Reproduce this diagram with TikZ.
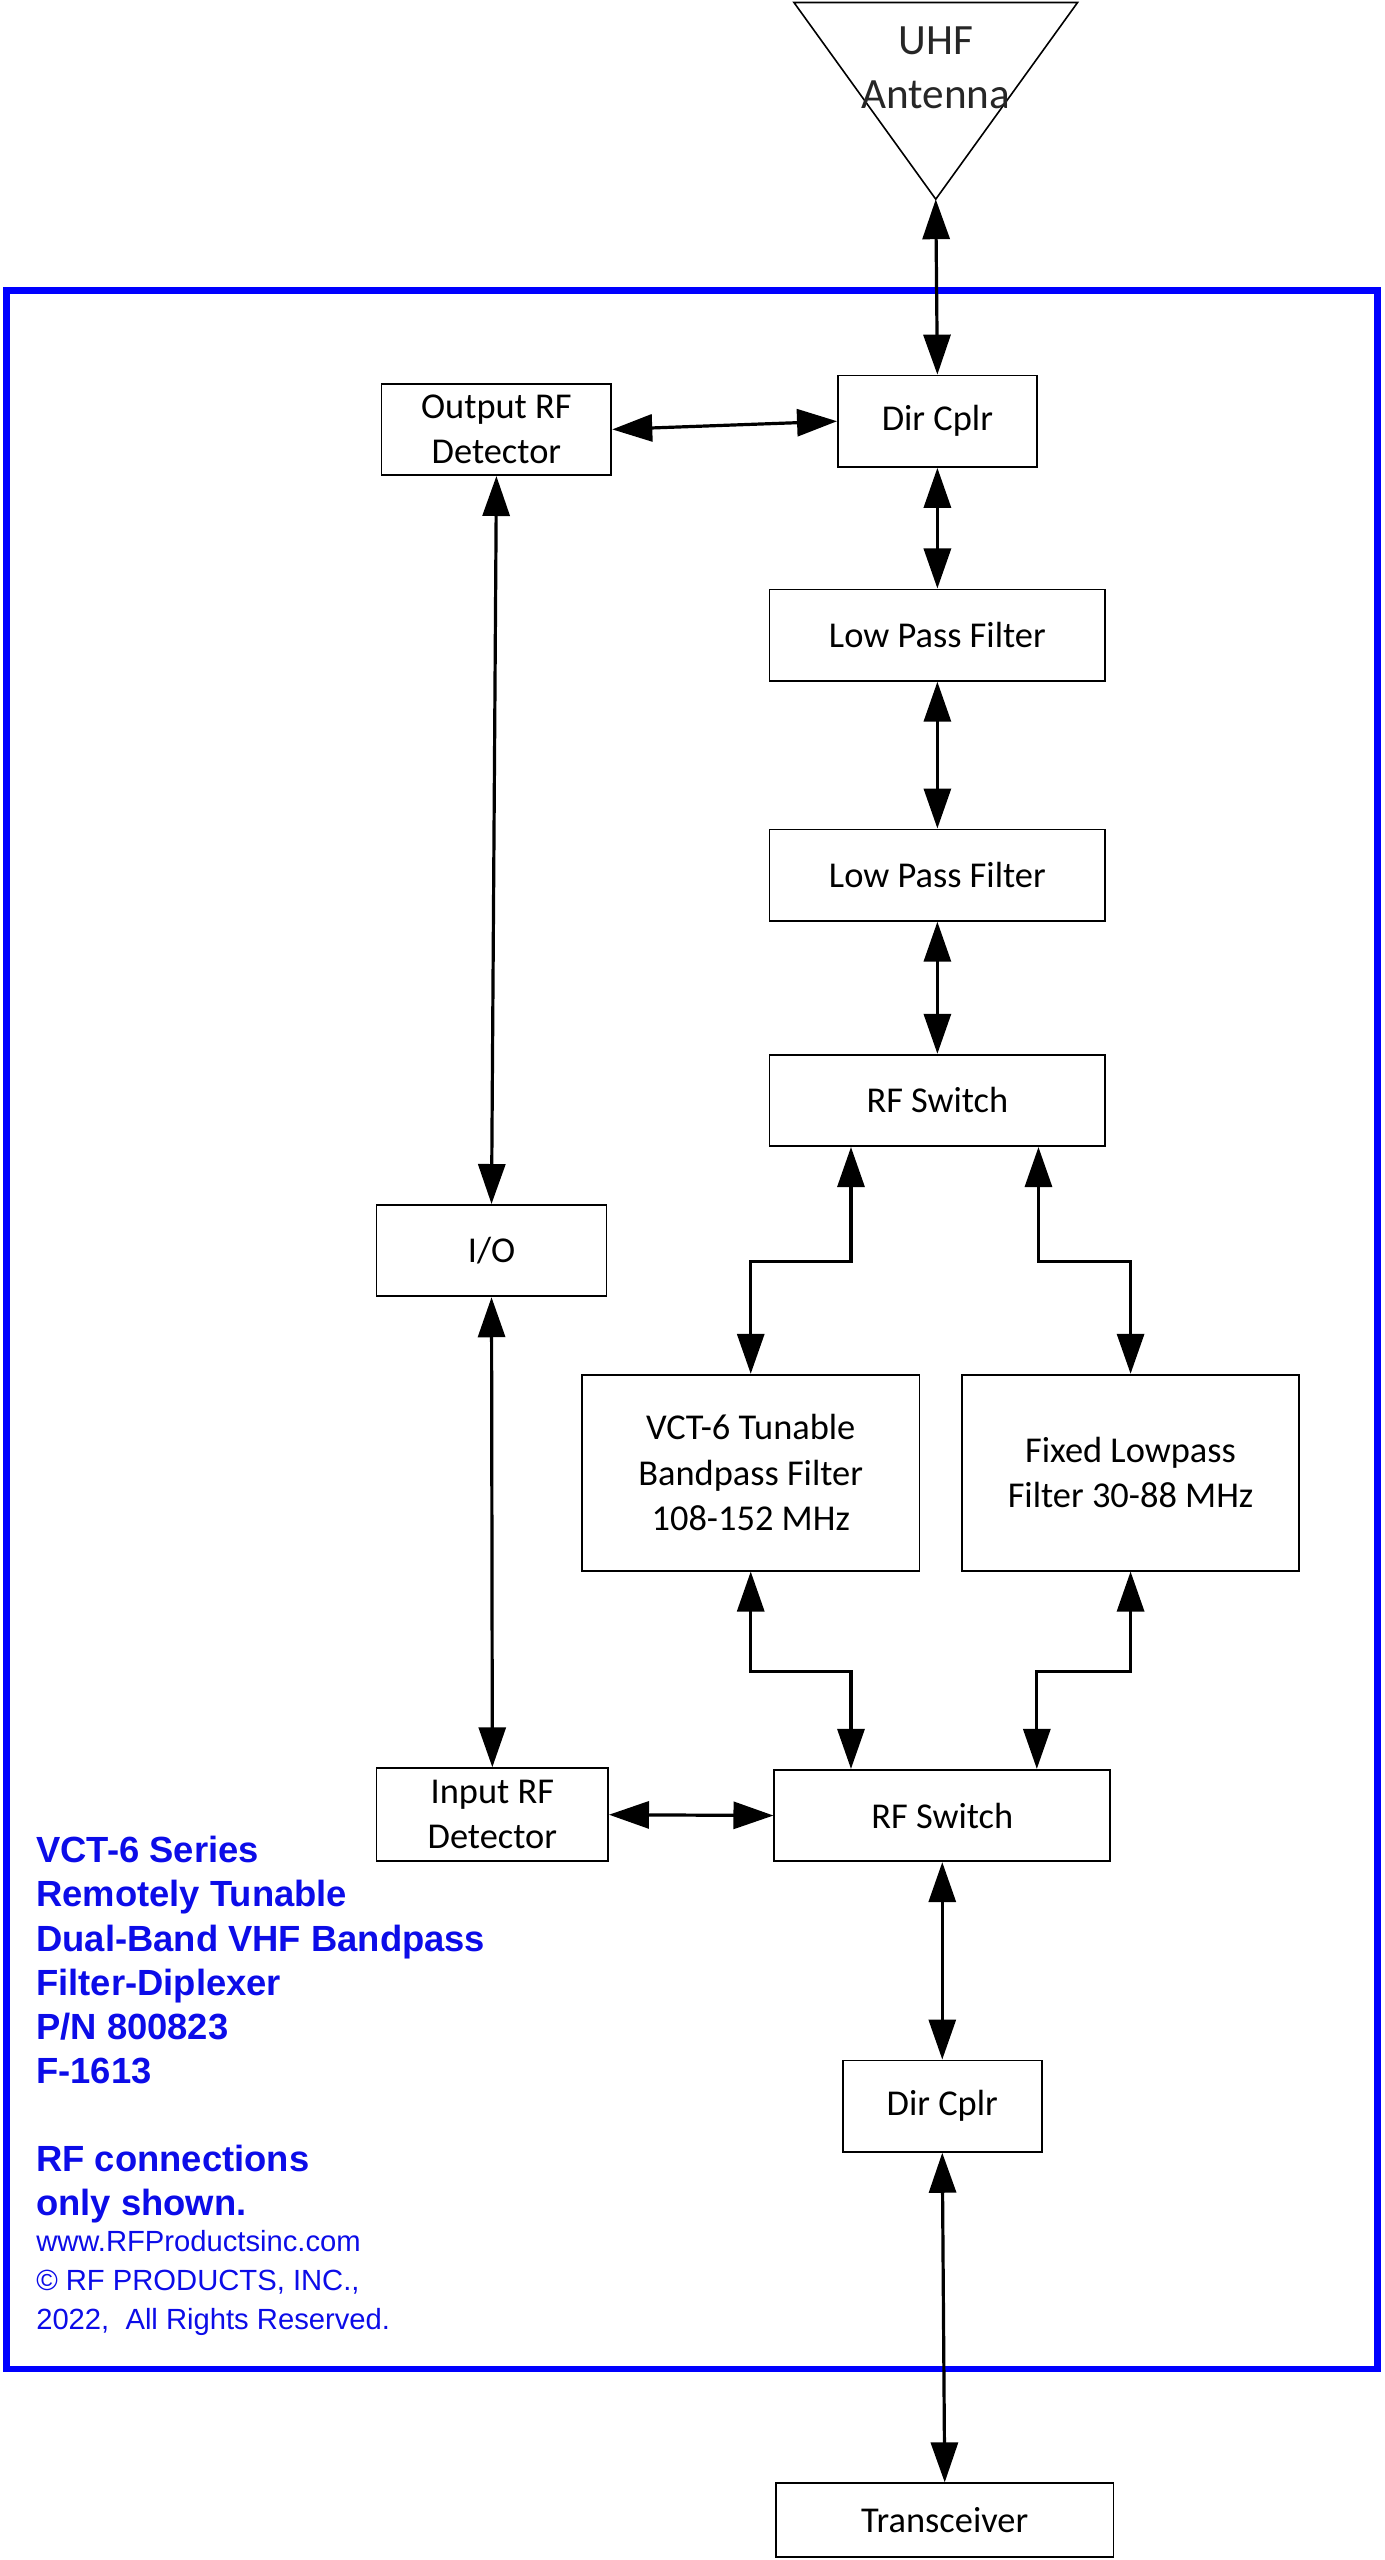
\documentclass[tikz,border=0pt]{standalone}
\usepackage{fontspec}
\setmainfont{Carlito}
\newfontfamily\arialfont{Liberation Sans}
\usetikzlibrary{arrows.meta,calc}
\definecolor{frameblue}{RGB}{0,0,255}
\definecolor{textblue}{RGB}{12,12,232}
\begin{document}
\begin{tikzpicture}[x=0.8151pt,y=-0.8163pt,
  box/.style={draw, line width=0.9pt, align=center, inner sep=0pt,
    font=\fontsize{18.2}{22.6}\selectfont},
  bw/.style={minimum width=#1*0.8151pt},
  bh/.style={minimum height=#1*0.8163pt},
  dbl/.style={{Triangle[length=20pt,width=13.5pt]}-{Triangle[length=20pt,width=13.5pt]}, line width=1.6pt},
  titletext/.style={anchor=base west, inner sep=0pt, text=textblue,
    font=\arialfont\bfseries\fontsize{18.2}{22}\selectfont},
  smalltext/.style={anchor=base west, inner sep=0pt, text=textblue,
    font=\arialfont\fontsize{14.6}{18}\selectfont}]
\useasboundingbox (0,0) rectangle (849,1568);
% blue frame
\draw[frameblue, line width=3.3pt] (4,178) rectangle (845,1451);
% antenna
\draw[line width=0.8pt] (487,1.5) -- (661,1.5) -- (574,122) -- cycle;
\coordinate (antapex) at (574,122);
\node[align=center, inner sep=0pt, text=black!85,
  font=\fontsize{21.6}{27}\selectfont] (ant) at (574,41.5) {UHF\\Antenna};
% boxes
\node[box, bw=122, bh=56] (dc1) at (575,258) {Dir Cplr};
\node[box, bw=141, bh=56] (od) at (304.5,263) {Output RF\\Detector};
\node[box, bw=206, bh=56] (lpf1) at (575,389) {Low Pass Filter};
\node[box, bw=206, bh=56] (lpf2) at (575,536) {Low Pass Filter};
\node[box, bw=206, bh=56] (rs1) at (575,674) {RF Switch};
\node[box, bw=141, bh=56] (io) at (301.5,766) {I/O};
\node[box, bw=207, bh=120] (vct) at (460.5,902) {VCT-6 Tunable\\Bandpass Filter\\108-152 MHz};
\node[box, bw=207, bh=120] (flp) at (693.5,902) {Fixed Lowpass\\Filter 30-88 MHz};
\node[box, bw=142, bh=57] (id) at (302,1111.5) {Input RF\\Detector};
\node[box, bw=206, bh=56] (rs2) at (578,1112) {RF Switch};
\node[box, bw=122, bh=56] (dc2) at (578,1290) {Dir Cplr};
\node[box, bw=207, bh=45] (tr) at (579.5,1543.5) {Transceiver};
% connectors
\draw[dbl] (antapex) -- (dc1.north);
\draw[dbl] (od.east) -- (dc1.west);
\draw[dbl] (dc1.south) -- (lpf1.north);
\draw[dbl] (lpf1.south) -- (lpf2.north);
\draw[dbl] (lpf2.south) -- (rs1.north);
\draw[dbl] ($(rs1.south)+(-53,0)$) -- ++(0,70) -| (vct.north);
\draw[dbl] ($(rs1.south)+(62,0)$) -- ++(0,70) -| (flp.north);
\draw[dbl] (vct.south) -- ++(0,61) -| ($(rs2.north)+(-56,0)$);
\draw[dbl] (flp.south) -- ++(0,61) -| ($(rs2.north)+(58,0)$);
\draw[dbl] (od.south) -- (io.north);
\draw[dbl] (io.south) -- (id.north);
\draw[dbl] (id.east) -- (rs2.west);
\draw[dbl] (rs2.south) -- (dc2.north);
\draw[dbl] (dc2.south) -- (tr.north);
% blue text
\node[titletext] (t1) at (22,1141) {VCT-6 Series};
\node[titletext] (t2) at (22,1168) {Remotely Tunable};
\node[titletext] (t3) at (22,1195) {Dual-Band VHF Bandpass};
\node[titletext] (t4) at (22,1222) {Filter-Diplexer};
\node[titletext] (t5) at (22,1249) {P/N 800823};
\node[titletext] (t6) at (22,1276) {F-1613};
\node[titletext] (t7) at (22,1330) {RF connections};
\node[titletext] (t8) at (22,1357) {only shown.};
\node[smalltext] (s1) at (22,1379) {www.RFProductsinc.com};
\node[smalltext] (s2) at (22,1403) {© RF PRODUCTS, INC.,};
\node[smalltext] (s3) at (22,1427) {2022,\ \ All Rights Reserved.};
\end{tikzpicture}
\end{document}
